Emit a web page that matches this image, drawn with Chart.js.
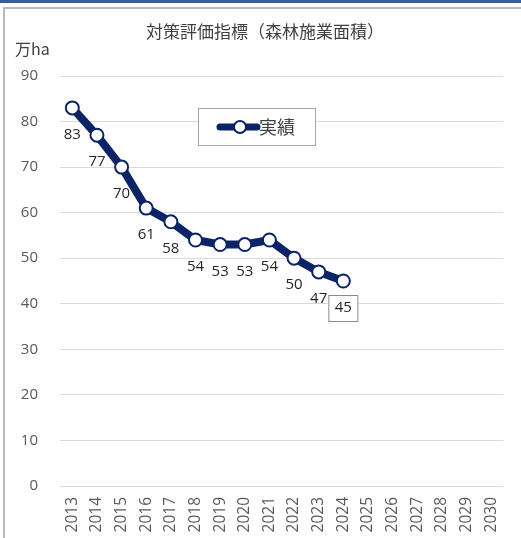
<!DOCTYPE html>
<html>
<head>
<meta charset="utf-8">
<script src="https://cdn.jsdelivr.net/npm/chart.js@4/dist/chart.umd.min.js"></script>
<style>
  html, body { margin: 0; padding: 0; background: #fff; }
  #wrap { position: relative; width: 521px; height: 538px; overflow: hidden; }
  #band { position: absolute; left: 0; top: 0; width: 521px; height: 3px; background: #3b5e99; }
  #frame { position: absolute; left: 3px; top: 7px; width: 530px; height: 540px;
           border-left: 2px solid #b8b8b8; border-top: 2px solid #b8b8b8; }
  canvas { position: absolute; left: 0; top: 0; }
</style>
</head>
<body>
<div id="wrap">
  <div id="band"></div>
  <div id="frame"></div>
  <canvas id="c" width="521" height="538"></canvas>
</div>
<script>
const years = ['2013','2014','2015','2016','2017','2018','2019','2020','2021','2022','2023','2024',
               '2025','2026','2027','2028','2029','2030'];
const actual = [83, 77, 70, 61, 58, 54, 53, 53, 54, 50, 47, 45,
                null, null, null, null, null, null];
const yTicks = [0, 10, 20, 30, 40, 50, 60, 70, 80, 90];

const titleText = '対策評価指標（森林施業面積）';
const unitText = '万ha';
const seriesName = '実績';

const NAVY = '#0b2466';
const FONT = '"Noto Sans CJK JP", "Noto Sans", sans-serif';
const NUM_FONT = '"Open Sans", "Noto Sans", sans-serif';

// Title, unit label and the legend box
const decorations = {
  id: 'decorations',
  afterDraw(chart) {
    const ctx = chart.ctx;
    const a = chart.chartArea;
    ctx.save();
    ctx.fillStyle = '#404040';
    ctx.textBaseline = 'middle';
    ctx.textAlign = 'center';
    ctx.font = '17px ' + FONT;
    ctx.fillText(titleText, 265, 32);
    ctx.textAlign = 'left';
    ctx.font = '16px ' + FONT;
    ctx.fillText(unitText, 15, 49);

    // legend
    const lx = a.left + 138, ly = a.top + 32, lw = 117, lh = 37;
    ctx.fillStyle = '#fff';
    ctx.fillRect(lx, ly, lw, lh);
    ctx.strokeStyle = '#a6a6a6';
    ctx.lineWidth = 1;
    ctx.strokeRect(lx + 0.5, ly + 0.5, lw, lh);
    const cy = ly + 19;
    ctx.strokeStyle = NAVY;
    ctx.lineWidth = 7;
    ctx.lineCap = 'round';
    ctx.beginPath();
    ctx.moveTo(lx + 22, cy);
    ctx.lineTo(lx + 59, cy);
    ctx.stroke();
    ctx.beginPath();
    ctx.arc(lx + 42, cy, 6, 0, Math.PI * 2);
    ctx.fillStyle = '#fff';
    ctx.fill();
    ctx.lineWidth = 2;
    ctx.stroke();
    ctx.fillStyle = '#404040';
    ctx.font = '18px ' + FONT;
    ctx.textAlign = 'left';
    ctx.fillText(seriesName, lx + 61, cy);
    ctx.restore();
  }
};

// Value labels below each point; the latest one sits in a box
const valueLabels = {
  id: 'valueLabels',
  afterDatasetsDraw(chart) {
    const ctx = chart.ctx;
    const meta = chart.getDatasetMeta(0);
    const data = chart.data.datasets[0].data;
    let lastIdx = -1;
    data.forEach((v, i) => { if (v !== null) lastIdx = i; });
    ctx.save();
    ctx.font = '15px ' + NUM_FONT;
    ctx.textAlign = 'center';
    ctx.textBaseline = 'middle';
    meta.data.forEach((pt, i) => {
      const v = data[i];
      if (v === null) return;
      const x = pt.x, y = pt.y + 27;
      if (i === lastIdx) {
        ctx.fillStyle = '#fff';
        ctx.fillRect(x - 15, y - 13, 30, 27);
        ctx.strokeStyle = '#8c8c8c';
        ctx.lineWidth = 1;
        ctx.strokeRect(x - 14.5, y - 12.5, 29, 26);
      }
      ctx.fillStyle = '#262626';
      ctx.fillText(String(v), x, y);
    });
    ctx.restore();
  }
};

new Chart(document.getElementById('c'), {
  type: 'line',
  data: {
    labels: years,
    datasets: [{
      label: seriesName,
      data: actual,
      borderColor: NAVY,
      borderWidth: 8,
      backgroundColor: '#fff',
      pointRadius: 6.5,
      pointBorderWidth: 2,
      pointBackgroundColor: '#fff',
      pointBorderColor: NAVY,
      tension: 0,
      spanGaps: false
    }]
  },
  options: {
    responsive: false,
    animation: false,
    devicePixelRatio: 1,
    layout: { padding: { top: 76, right: 8, left: 0, bottom: 0 } },
    plugins: {
      legend: { display: false },
      title: { display: false },
      tooltip: { enabled: false }
    },
    scales: {
      x: {
        offset: true,
        grid: { display: false, drawTicks: false },
        border: { display: false },
        ticks: {
          minRotation: 90, maxRotation: 90, padding: 11, autoSkip: false,
          color: '#595959',
          font: { size: 15.5, family: NUM_FONT }
        },
        afterFit(scale) { scale.height = 52; }
      },
      y: {
        min: 0, max: 90,
        afterBuildTicks(scale) { scale.ticks = yTicks.map(v => ({ value: v })); },
        grid: { color: '#d9d9d9', lineWidth: 1, drawTicks: false },
        border: { display: false },
        ticks: {
          padding: 22,
          color: '#595959',
          font: { size: 15, family: NUM_FONT }
        },
        afterFit(scale) { scale.width = 60; }
      }
    }
  },
  plugins: [decorations, valueLabels]
});
</script>
</body>
</html>
